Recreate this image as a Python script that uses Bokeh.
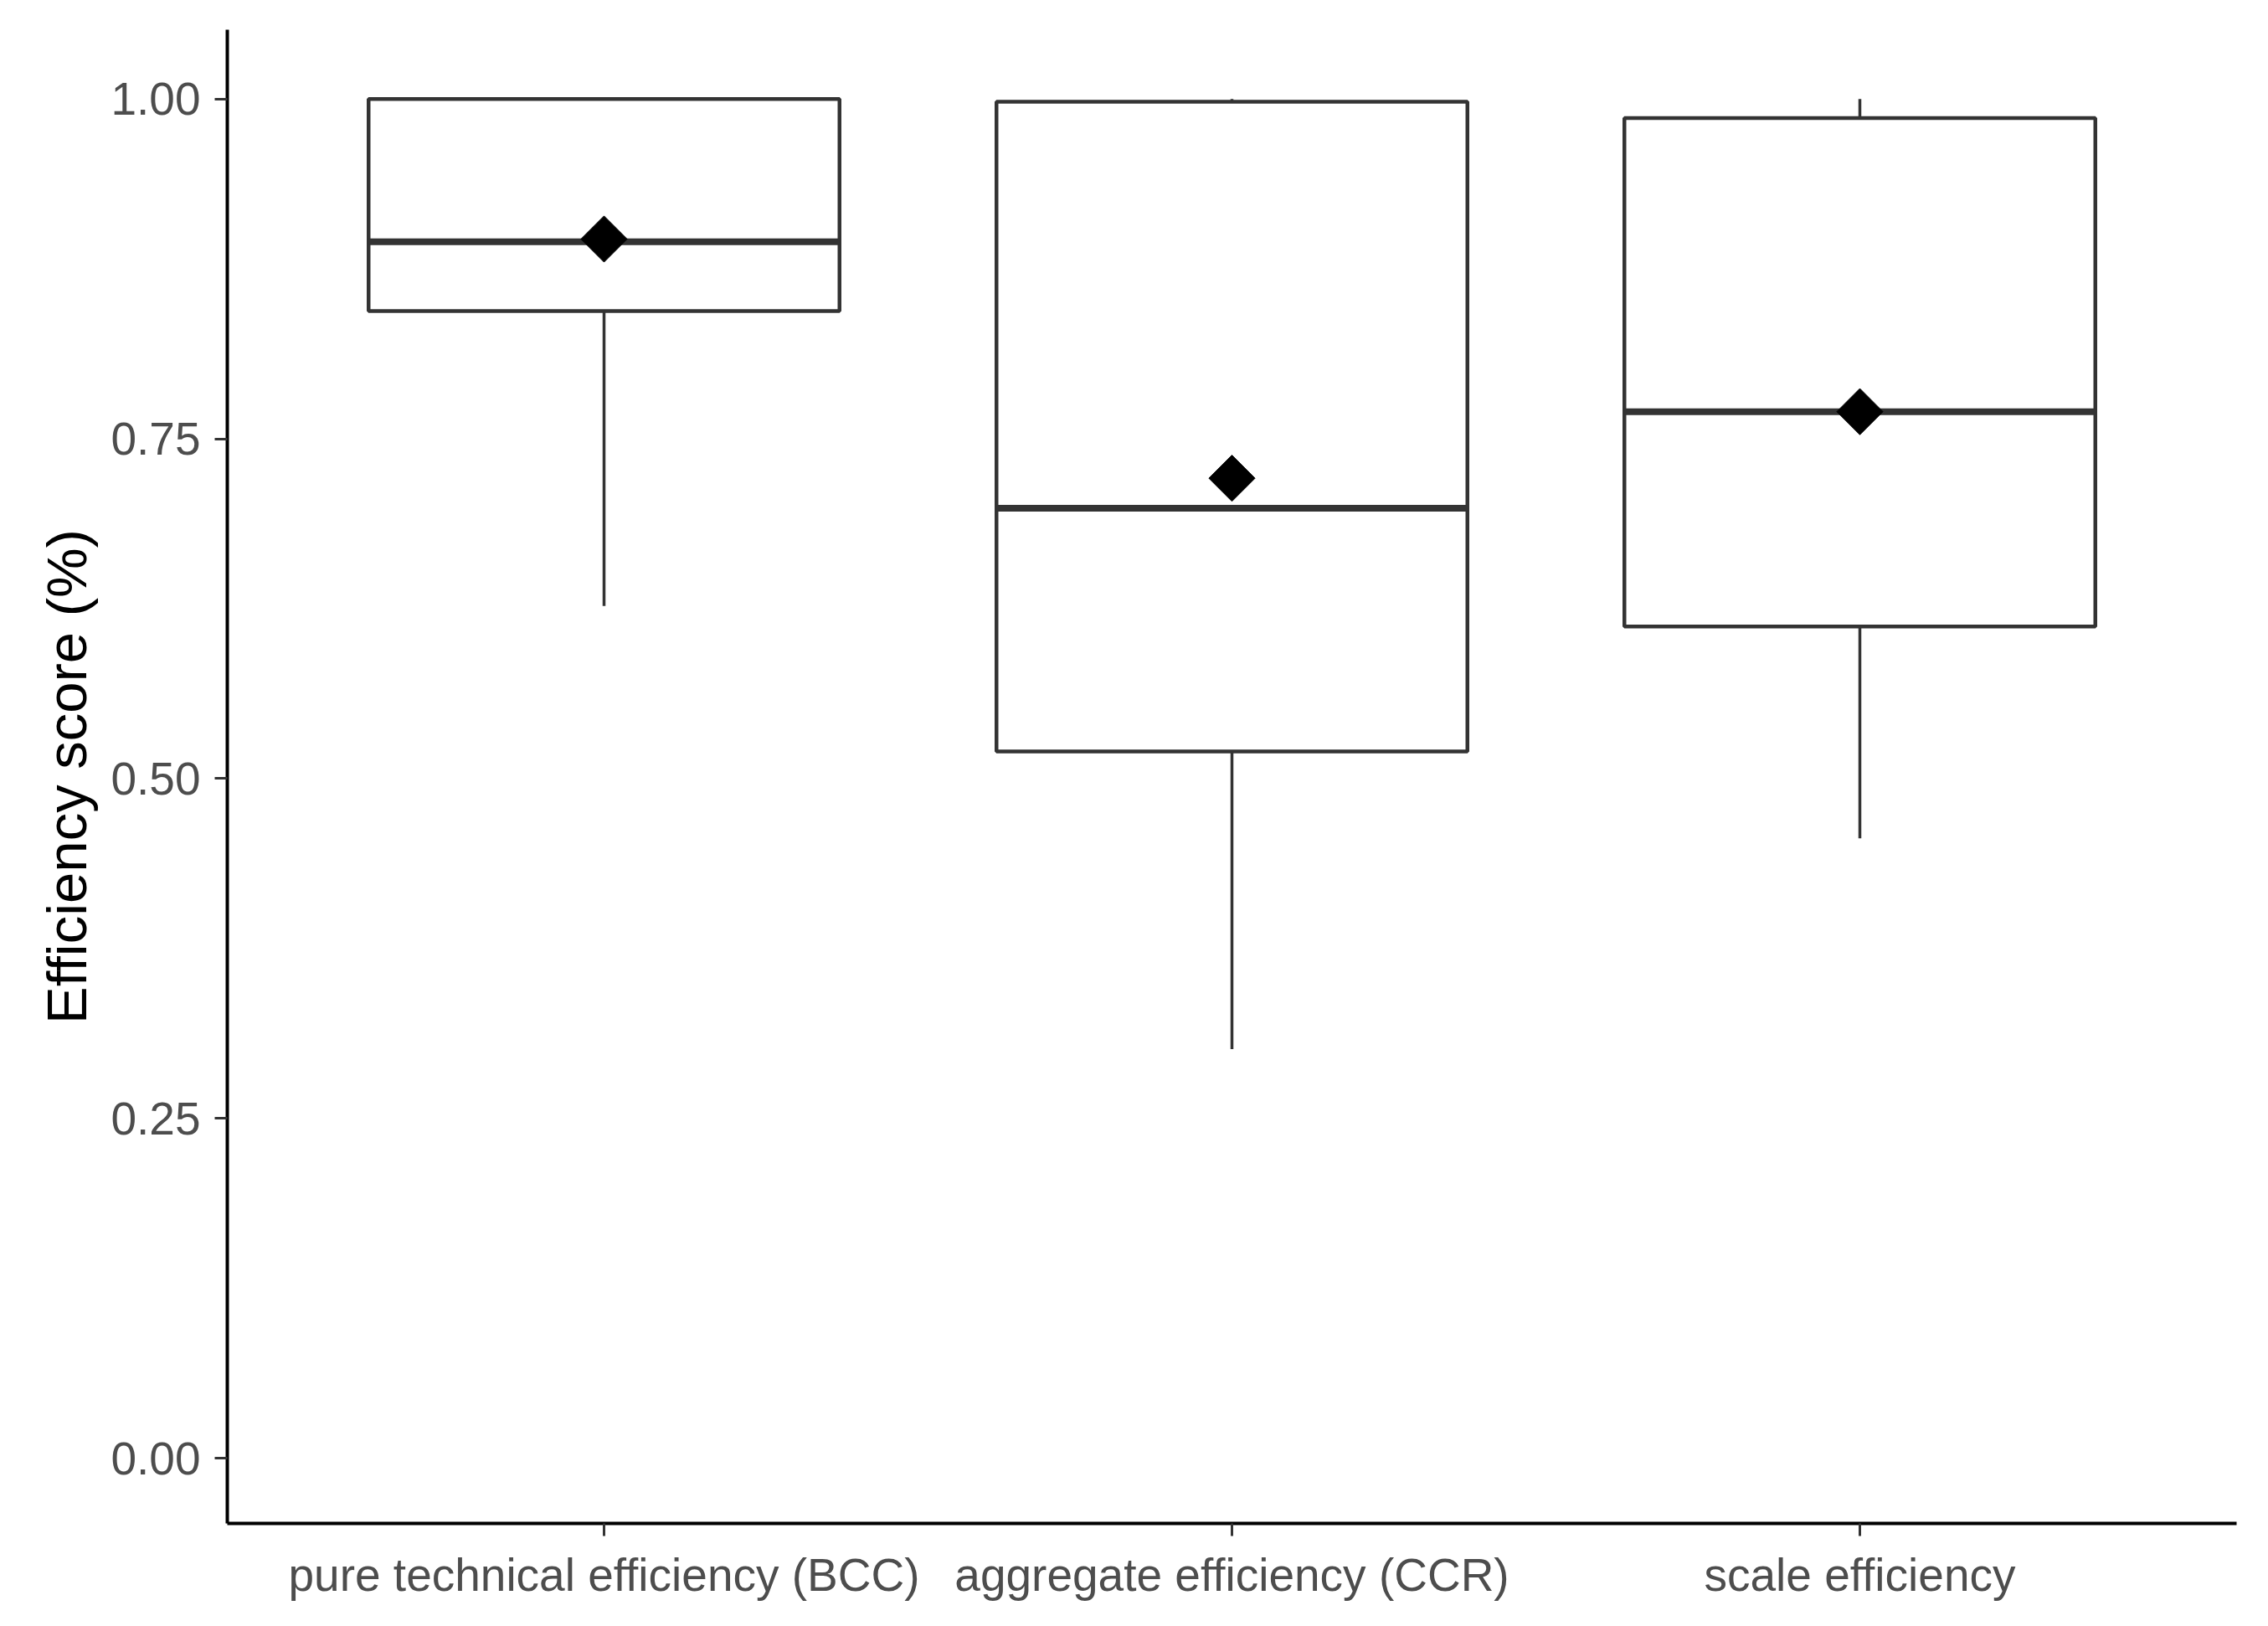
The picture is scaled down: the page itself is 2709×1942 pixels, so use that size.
import math
from bokeh.plotting import figure
from bokeh.models import ColumnDataSource, FactorRange, Range1d, FixedTicker
from bokeh.transform import dodge
from bokeh.embed import file_html
from bokeh.resources import INLINE

categories = ["pure technical efficiency (BCC)", "aggregate efficiency (CCR)", "scale efficiency"]
q1 = [0.844, 0.520, 0.612]
median = [0.895, 0.699, 0.770]
q3 = [1.000, 0.998, 0.986]
lower_whisker = [0.627, 0.301, 0.456]
upper_whisker = [1.000, 1.000, 1.000]
mean = [0.897, 0.721, 0.770]

y_ticks = [0.0, 0.25, 0.5, 0.75, 1.0]
y_tick_labels = ["0.00", "0.25", "0.50", "0.75", "1.00"]

src = ColumnDataSource(dict(cat=categories, q1=q1, med=median, q3=q3,
                            lo=lower_whisker, hi=upper_whisker, mean=mean))

p = figure(x_range=FactorRange(factors=categories, range_padding=0.2 / 3),
           y_range=Range1d(-0.048, 1.051),
           frame_width=2400, frame_height=1784,
           min_border_left=271, min_border_right=22, min_border_top=35, min_border_bottom=107,
           output_backend="svg", toolbar_location=None,
           background_fill_color="white", border_fill_color="white")
p.outline_line_color = None
p.xgrid.visible = False
p.ygrid.visible = False

box_col = "#333333"
p.segment(x0="cat", x1="cat", y0="q3", y1="hi", source=src, line_color=box_col, line_width=3.5)
p.segment(x0="cat", x1="cat", y0="q1", y1="lo", source=src, line_color=box_col, line_width=3.5)
p.vbar(x="cat", bottom="q1", top="q3", width=0.75, source=src,
       fill_color="white", line_color=box_col, line_width=4.5)
p.segment(x0=dodge("cat", -0.375, range=p.x_range), x1=dodge("cat", 0.375, range=p.x_range),
          y0="med", y1="med", source=src, line_color=box_col, line_width=8)
p.scatter(x="cat", y="mean", source=src, marker="square", angle=math.pi / 4,
          size=39, fill_color="black", line_color="black")

font = "Liberation Sans"
for ax in (p.xaxis[0], p.yaxis[0]):
    ax.axis_line_color = "black"
    ax.axis_line_width = 4
    ax.major_tick_line_color = box_col
    ax.major_tick_line_width = 3
    ax.major_tick_out = 15
    ax.major_tick_in = 0
    ax.minor_tick_line_color = None
    ax.major_label_text_font = font
    ax.major_label_text_font_size = "55px"
    ax.major_label_text_color = "#4D4D4D"

p.yaxis.ticker = FixedTicker(ticks=y_ticks)
p.yaxis.major_label_overrides = {t: l for t, l in zip(y_ticks, y_tick_labels)}
p.yaxis.major_label_standoff = 17
p.yaxis.axis_label = "Efficiency score (%)"
p.yaxis.axis_label_text_font = font
p.yaxis.axis_label_text_font_size = "67px"
p.yaxis.axis_label_text_font_style = "normal"
p.yaxis.axis_label_text_color = "black"
p.yaxis.axis_label_standoff = 12
p.xaxis.major_label_standoff = 15

open("out.html", "w").write(file_html(p, INLINE))
